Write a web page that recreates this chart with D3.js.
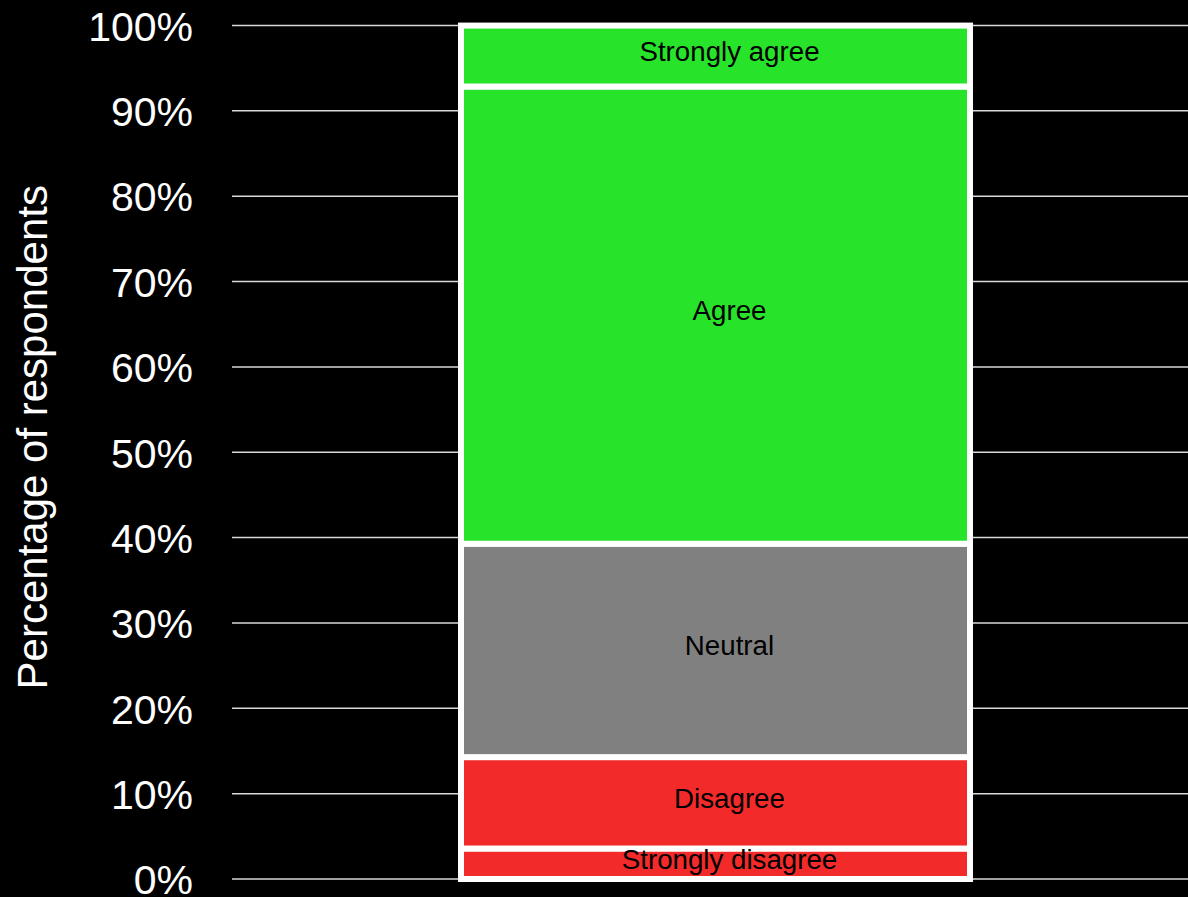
<!DOCTYPE html>
<html>
<head>
<meta charset="utf-8">
<script src="https://cdn.jsdelivr.net/npm/d3@7"></script>
<style>
  html, body { margin: 0; padding: 0; background: #000; }
  svg { display: block; }
</style>
</head>
<body>
<script>
const categories = ["Strongly disagree", "Disagree", "Neutral", "Agree", "Strongly agree"];
const values = [3.57, 10.71, 25.0, 53.57, 7.14];
const colors = ["#f22a2a", "#f22a2a", "#808080", "#27e42a", "#27e42a"];
const tickValues = [0, 10, 20, 30, 40, 50, 60, 70, 80, 90, 100];
const yTitle = "Percentage of respondents";

const W = 1188, H = 897;
const svg = d3.select("body").append("svg").attr("width", W).attr("height", H)
  .style("font-family", "'Liberation Sans', Arial, sans-serif");

const y = d3.scaleLinear().domain([0, 100]).range([879, 25.5]);
const x = d3.scaleBand().domain(["Q"]).range([461, 970]).paddingInner(0).paddingOuter(0);
const gridX0 = 232, gridX1 = W;

// stacked data
let acc = 0;
const stacked = categories.map((c, i) => {
  const d = { cat: c, v: values[i], y0: acc, y1: acc + values[i], color: colors[i] };
  acc += values[i];
  return d;
});

// gridlines
svg.append("g").selectAll("line").data(tickValues).join("line")
  .attr("x1", gridX0).attr("x2", gridX1)
  .attr("y1", d => y(d)).attr("y2", d => y(d))
  .attr("stroke", "#d9d9d9").attr("stroke-width", 1.5);

// y axis labels
const yAxis = d3.axisLeft(y).tickValues(tickValues).tickFormat(d => d + "%").tickSize(0).tickPadding(0);
const ga = svg.append("g").attr("transform", "translate(193,0)").call(yAxis);
ga.select(".domain").remove();
ga.selectAll("text").attr("fill", "#fff").style("font-size", "41px")
  .style("font-family", "'Liberation Sans', Arial, sans-serif")
  .attr("dy", "0.36em");

// axis title
svg.append("text")
  .attr("transform", `translate(47,${(y(0) + y(100)) / 2 - 15}) rotate(-90)`)
  .attr("text-anchor", "middle")
  .attr("fill", "#fff").style("font-size", "42px")
  .text(yTitle);

// bars
svg.append("g").selectAll("rect").data(stacked).join("rect")
  .attr("x", x("Q")).attr("width", x.bandwidth())
  .attr("y", d => y(d.y1)).attr("height", d => y(d.y0) - y(d.y1))
  .attr("fill", d => d.color)
  .attr("stroke", "#fff").attr("stroke-width", 6);

// labels
svg.append("g").selectAll("text").data(stacked).join("text")
  .attr("x", x("Q") + x.bandwidth() / 2 + 14)
  .attr("y", d => (y(d.y0) + y(d.y1)) / 2 + 5)
  .attr("text-anchor", "middle")
  .attr("fill", "#000").style("font-size", "27.7px")
  .text(d => d.cat);
</script>
</body>
</html>
